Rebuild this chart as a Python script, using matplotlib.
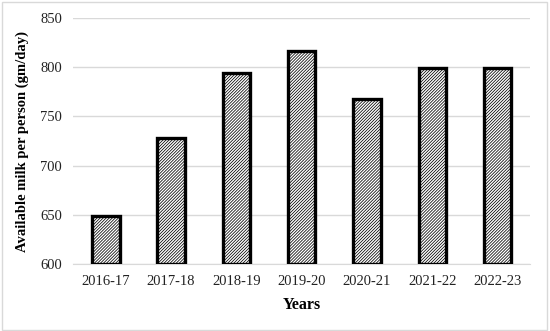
import matplotlib.pyplot as plt
from matplotlib.patches import Rectangle

# data
years = ["2016-17", "2017-18", "2018-19", "2019-20", "2020-21", "2021-22", "2022-23"]
milk = [649, 728, 794, 816, 768, 799, 799]
yticks = [600, 650, 700, 750, 800, 850]


def plot_milk():
    plt.rcParams['font.family'] = ['Liberation Serif', 'DejaVu Serif']
    plt.rcParams['hatch.linewidth'] = 0.55

    fig = plt.figure(figsize=(5.5, 3.31), dpi=100)
    ax = fig.add_axes([0.133, 0.202, 0.831, 0.744])

    x = range(len(years))
    ax.bar(x, [v - 600 for v in milk], bottom=600, width=0.42,
           color='white', edgecolor='black', linewidth=2.4,
           hatch='/' * 11, zorder=3)

    ax.set_ylim(600, 850)
    ax.set_xlim(-0.5, len(years) - 0.5)
    ax.set_yticks(yticks)
    ax.set_xticks(list(x))
    ax.set_xticklabels(years)
    ax.tick_params(axis='both', length=0, labelsize=10.5, colors='#222222')
    ax.tick_params(axis='x', pad=8)
    ax.tick_params(axis='y', pad=8)
    ax.grid(axis='y', color='#d9d9d9', linewidth=1, zorder=0)
    for s in ['top', 'right', 'left']:
        ax.spines[s].set_visible(False)
    ax.spines['bottom'].set_color('#d9d9d9')

    ax.set_xlabel('Years', fontsize=11.5, fontweight='bold', labelpad=6)
    ax.set_ylabel('Available milk per person (gm/day)', fontsize=10.5,
                  fontweight='bold', labelpad=8)

    # light frame round the whole figure
    fig.patches.append(Rectangle((0.003, 0.004), 0.992, 0.99, transform=fig.transFigure,
                                 fill=False, edgecolor='#d9d9d9', linewidth=1))
    fig.savefig('out.png', dpi=100)


if __name__ == "__main__":
    plot_milk()
